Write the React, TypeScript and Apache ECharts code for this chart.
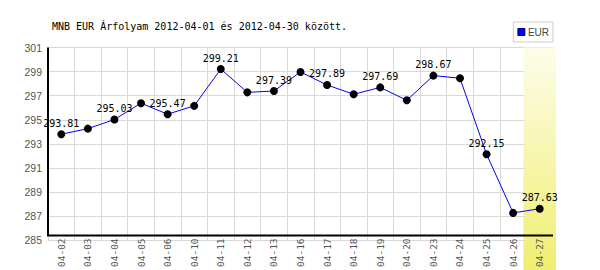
import React, { useEffect, useRef } from 'react';
import * as echarts from 'echarts';

const titleText = 'MNB EUR Árfolyam 2012-04-01 és 2012-04-30 között.';
const seriesName = 'EUR';
const categories = ['04-02', '04-03', '04-04', '04-05', '04-06', '04-10', '04-11', '04-12', '04-13', '04-16', '04-17', '04-18', '04-19', '04-20', '04-23', '04-24', '04-25', '04-26', '04-27'];
const rates = [293.81, 294.27, 295.03, 296.38, 295.47, 296.16, 299.21, 297.28, 297.39, 298.97, 297.89, 297.12, 297.69, 296.62, 298.67, 298.45, 292.15, 287.28, 287.63];
const labeled = [true, false, true, false, true, false, true, false, true, false, true, false, true, false, true, false, true, false, true];
const yMin = 285;
const yMax = 301;
const yStep = 2;

export default function App() {
  const ref = useRef<HTMLDivElement>(null);
  useEffect(() => {
    if (!ref.current) return;
    const chart = echarts.init(ref.current, null, { renderer: 'svg' });
    const option: any = {
      animation: false,
      backgroundColor: '#fff',
      title: {
        text: titleText,
        left: 52,
        top: 21,
        padding: 0,
        textStyle: { fontFamily: 'DejaVu Sans Mono', fontSize: 10, fontWeight: 'normal', color: '#000' },
      },
      legend: {
        right: 47,
        top: 22,
        padding: [5, 4],
        borderColor: '#cccccc',
        borderWidth: 1,
        backgroundColor: '#fff',
        itemWidth: 7,
        itemHeight: 7,
        itemGap: 3,
        icon: 'rect',
        textStyle: { fontFamily: 'Liberation Sans', fontSize: 10, color: '#444', padding: [0, 0, 0, -2] },
        data: [{ name: seriesName, itemStyle: { color: '#0000ff', borderColor: '#000080', borderWidth: 1 } }],
      },
      grid: { left: 48, right: 47, top: 47.5, bottom: 27.5 },
      xAxis: [
        {
          type: 'category',
          data: categories,
          boundaryGap: true,
          offset: -5,
          z: 2,
          axisLine: { show: false },
          axisTick: { show: false },
          axisLabel: { rotate: 90, margin: 3, interval: 0, fontFamily: 'DejaVu Sans Mono', fontSize: 9.5, color: '#555' },
          splitLine: { show: false },
        },
        {
          type: 'category',
          data: categories,
          boundaryGap: true,
          position: 'bottom',
          z: 0,
          axisLine: { show: false },
          axisTick: { show: false },
          axisLabel: { show: false },
          splitLine: { show: true, interval: 0, lineStyle: { color: '#d9d9d9', width: 1 } },
        },
      ],
      yAxis: {
        type: 'value',
        min: yMin,
        max: yMax,
        interval: yStep,
        axisLine: { show: false },
        axisTick: { show: false },
        axisLabel: { margin: 6, fontFamily: 'Liberation Sans', fontSize: 10.5, color: '#555' },
        splitLine: { show: true, lineStyle: { color: '#d9d9d9', width: 1 } },
      },
      series: [
        {
          name: seriesName,
          type: 'line',
          xAxisIndex: 0,
          z: 3,
          data: rates.map((v, i) => ({
            value: v,
            label: { show: labeled[i] },
          })),
          symbol: 'circle',
          symbolSize: 8,
          itemStyle: { color: '#000' },
          lineStyle: { color: '#0000ff', width: 1 },
          label: {
            show: false,
            position: 'top',
            distance: 2,
            fontFamily: 'DejaVu Sans Mono',
            fontSize: 10,
            color: '#000',
            formatter: (p: any) => Number(p.value).toFixed(2),
          },
        },
      ],
    };
    chart.setOption(option);

    const p0 = chart.convertToPixel({ gridIndex: 0 }, [0, yMax]) as number[];
    const p1 = chart.convertToPixel({ gridIndex: 0 }, [1, yMax]) as number[];
    const pLast = chart.convertToPixel({ gridIndex: 0 }, [categories.length - 1, yMin]) as number[];
    const cw = p1[0] - p0[0];
    const left = p0[0] - cw / 2;
    const right = pLast[0] + cw / 2;
    const top = p0[1];
    const axisY = pLast[1] - 5;

    chart.setOption({
      graphic: {
        elements: [
          {
            type: 'rect',
            z: 1,
            shape: { x: pLast[0] - cw / 2 - 3, y: top, width: cw + 6, height: 270 - top },
            style: {
              fill: new echarts.graphic.LinearGradient(0, 0, 0, 1, [
                { offset: 0, color: '#fdfdea' },
                { offset: 1, color: '#f0ee70' },
              ]),
            },
          },
          {
            type: 'line',
            z: 10,
            shape: { x1: left, y1: top, x2: left, y2: axisY },
            style: { stroke: '#000', lineWidth: 2 },
          },
          {
            type: 'line',
            z: 10,
            shape: { x1: left - 1, y1: axisY, x2: right, y2: axisY },
            style: { stroke: '#000', lineWidth: 2 },
          },
        ],
      },
    });

    return () => chart.dispose();
  }, []);
  return <div ref={ref} style={{ position: 'absolute', left: 0, top: 0, width: 600, height: 270 }} />;
}
